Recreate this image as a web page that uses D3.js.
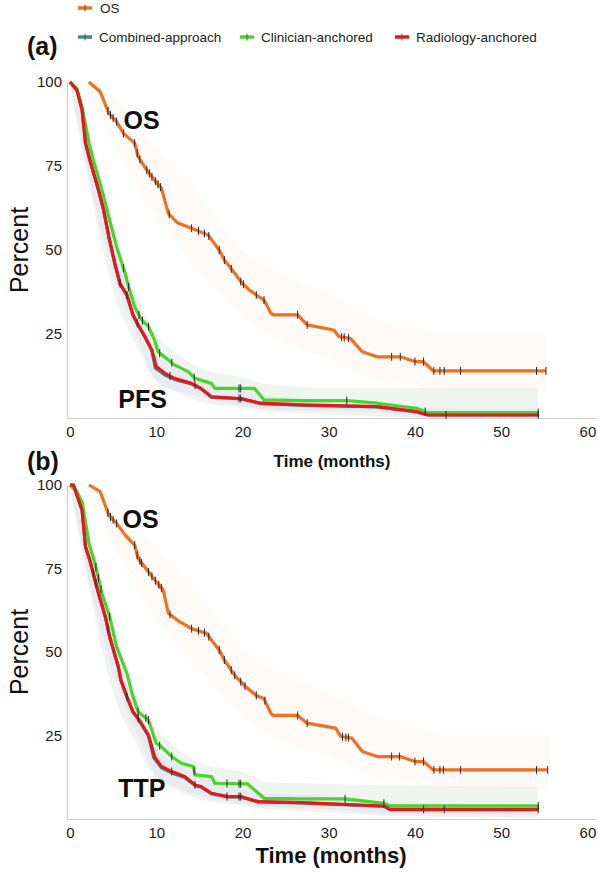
<!DOCTYPE html>
<html><head><meta charset="utf-8">
<script src="https://cdn.jsdelivr.net/npm/d3@7"></script>
<style>body{margin:0;background:#fff}svg{display:block;font-family:"Liberation Sans",Arial,sans-serif}</style>
</head><body><svg id="c" width="598" height="872"></svg>
<script>
// ---------- DATA ----------
const xTicks = [0,10,20,30,40,50,60];
const yTicks = [25,50,75,100];
const seriesNames = ["OS","Combined-approach","Clinician-anchored","Radiology-anchored"];
const seriesColors = ["#f26f22","#3e8c84","#46d62a","#e3191c"];

// Panel (a): OS
const osA_t = [2.2,3.5,4.5,5.4,6.2,7.5,7.9,8.9,9.8,10.6,11.4,12.5,14.1,16.0,17.3,17.9,19.1,19.8,20.8,21.6,22.5,23.3,23.6,26.4,27.5,30.6,31.2,32.5,33.9,35.6,38.3,40.0,41.0,42.1,55.2];
const osA_s = [100,97.1,90.7,88.2,84.7,81.8,77.8,73.8,70.8,68.4,60.9,58,56.5,54.5,50,47,43.1,40.6,38.1,36.6,35.1,31.2,30.7,30.7,27.7,26.2,24.2,23.7,19.7,18.2,18.2,16.8,16.8,14,14];
const osA_c = [4.4,4.7,5.0,5.4,6.2,7.5,7.8,8.1,8.9,9.2,9.5,9.9,10.2,10.5,11.5,14.1,14.9,15.6,16.1,17.3,17.9,18.7,19.8,20.1,21.6,22.5,26.4,27.5,31.5,31.8,32.3,37.3,38.3,40.0,41.0,42.2,42.9,43.4,45.3,54.1,55.2];
// Panel (a): PFS
const redA_t = [0,0.8,1.4,1.8,2.3,3.3,3.9,4.5,5.2,5.8,6.6,7.3,7.9,8.7,9.5,10.0,11.0,12.1,14.1,15.2,16.4,19.8,22.1,26.8,35.6,40.2,41.5,54.3];
const redA_s = [100,97.6,91.7,81.8,76.8,67.9,61.9,54,46,40,36.6,30.7,27.7,24.2,20.2,15.3,13.3,11.8,10.3,8.8,6.3,5.8,4.4,3.9,3.4,1.9,0.9,0.9];
const redA_c = [5.8,6.6,7.8,11.6,14.5,19.6,19.8,43.6,54.3];
const combA_t = [0,0.8,1.4,1.8,2.3,3.3,3.9,4.5,5.2,5.8,6.6,7.3,7.9,8.7,9.5,9.9,11.0,12.1,14.1,15.2,16.4,19.8,22.1,26.8,35.6,40.2,41.5,54.3];
const combA_s = [100,97.5,91.6,81.7,76.7,67.8,61.8,53.9,45.9,39.9,36.5,30.6,27.6,24,19.9,14.8,12.8,11.5,10.1,8.7,6.2,5.7,4.3,3.8,3.3,1.8,0.9,0.9];
const greenA_t = [0,0.8,1.4,2.2,2.7,3.7,4.5,5.4,6.4,6.8,7.5,8.3,9.1,9.8,10.2,11.4,12.1,13.7,14.5,16.4,16.8,21.4,22.5,26.8,32.1,35.6,40.2,41.5,54.3];
const greenA_s = [100,98,92.6,81.8,76.8,67.9,59.9,51,43,39,33.1,29.2,27.2,23.2,19.7,17.3,15.8,13.8,11.8,10.3,8.8,8.8,5.4,5.2,5.2,4.4,2.9,1.6,1.6];
const greenA_c = [6.2,6.8,8.0,8.4,9.1,10.4,11.8,14.4,19.6,19.8,32.1,41.2,54.3];

// Panel (b): OS
const osB_t = [2.2,3.5,4.5,5.4,6.4,7.5,7.9,9.1,10.0,10.8,11.4,12.7,14.1,15.8,17.3,17.9,19.1,20.2,21.6,22.5,23.3,23.6,26.4,27.5,30.8,31.4,32.7,33.9,35.6,38.3,40.0,41.0,42.1,55.4];
const osB_s = [100,98,91,88.5,85,82,78,74,71,68.6,61.6,59.1,57,55.6,50.6,47.6,43,40,37,36,31.6,31,31,28.7,27.2,24.7,24.2,20.2,18.7,18.7,17.2,17.2,14.7,14.7];
const osB_c = [4.4,4.7,5.0,5.4,7.5,7.8,8.1,8.3,9.1,9.5,9.9,10.3,10.6,11.6,14.1,14.9,15.6,16.1,17.3,17.9,18.7,19.1,19.8,20.3,21.6,22.6,26.4,27.5,31.6,32.0,32.3,37.3,38.2,40.0,41.0,42.2,42.9,43.3,45.3,54.1,55.4];
// Panel (b): TTP
const redB_t = [0,0.4,0.8,1.4,1.8,2.3,3.3,4.1,4.6,5.6,5.9,6.6,7.3,7.9,9.1,9.8,10.6,11.8,13.3,14.5,15.2,16.4,18.3,19.8,21.8,26.8,36.4,37.1,54.3];
const redB_s = [100,100,97,92.5,81.5,77.5,67.6,60.6,54.6,45.6,41.6,36.6,32.1,30.1,25.1,18.7,15.7,14.2,12.7,10.2,9.7,7.7,6.7,6.7,5.2,4.9,3.9,2.9,2.9];
const redB_c = [2.7,3.0,4.4,6.6,7.9,11.8,14.5,18.2,19.6,19.8,41.0,43.4,54.3];
const combB_t = [0,0.4,0.8,1.4,1.8,2.3,3.3,4.1,4.6,5.6,5.9,6.6,7.3,7.9,9.1,9.7,10.6,11.8,13.3,14.5,15.2,16.4,18.3,19.8,21.8,26.8,36.4,37.1,54.3];
const combB_s = [100,100,96.9,92.4,81.4,77.4,67.5,60.5,54.5,45.5,41.5,36.5,32,30,24.9,18.4,15.3,13.8,12.4,10,9.6,7.6,6.6,6.6,5.1,4.8,3.8,2.8,2.8];
const greenB_t = [0,0.8,1.4,2.2,2.9,3.7,4.6,5.4,6.6,7.2,7.9,9.1,10.0,10.6,11.8,12.9,14.3,14.5,16.4,16.8,20.6,22.5,26.8,31.9,36.4,37.1,54.3];
const greenB_s = [100,98,95,82.5,76.5,67.6,60.6,51.6,43.6,37.6,32.1,29.6,22.7,21.6,18.7,16.7,15.7,13.2,12.7,10.7,10.5,6.2,6,6,4.7,3.9,3.9];
const greenB_c = [3.0,3.3,3.6,4.6,7.9,8.8,9.1,10.4,11.8,14.4,18.2,19.6,19.8,31.9,36.4,54.3];

// Confidence bands (time, lower, upper)
const osBandA_t = [2.2,5,10,15,20,25,30,35,41,42.1,55.2];
const osBandA_lo = [96,82,60,44,31,22,18,12,9,7.8,7.8];
const osBandA_hi = [100,96,80,66,50,42,37,30,26,24.7,24.7];
const pfsBandA_t = [0,2,5,8,10,12,15,20,23,30,35,41,54.3];
const pfsBandA_lo = [100,72,38,20,11,8,5,3,2,1,0.5,0,0];
const pfsBandA_hi = [100,88,55,35,25,20,15,12,10,9,9,9,9];
const combBandA_lo = [100,74,43,23,11,8.5,6.5,3.5,2.5,2,1.8,0.3,0.2];
const combBandA_hi = [100,84,53,31,19,15,12,8,6.5,5.5,5,3,2.5];
const osBandB_t = [2.2,5,10,15,20,25,30,35,41,42.1,55.4];
const osBandB_lo = [96,82,60,45,31,23,19,13,10,8.7,8.7];
const osBandB_hi = [100,96,81,67,51,43,38,31,26.5,25,25];
const ttpBandB_t = [0,2,5,8,10,12,15,20,23,30,37,54.3];
const ttpBandB_lo = [100,72,38,21,12,9,6,4,3,2,1,0.5];
const ttpBandB_hi = [100,88,56,36,27,22,17,14,11,10.5,10,9.7];
const combBandB_lo = [100,74,44,24,13,10,7,4.5,3.5,3,1.5,1.2];
const combBandB_hi = [100,84,54,32,21,17,13,9,7.5,7,5,4.5];

// ---------- DRAW ----------
const svg = d3.select("#c");
const panels = [
  {label:"(a)", yTop:82, yBot:418, endLabel:"PFS", endPos:[5.6,3.0], osPos:[6.2,86],
   titleY:467, titleSize:17, tickBase:437,
   bands:[[osBandA_t,osBandA_lo,osBandA_hi,"#fbe6da",0.22],[pfsBandA_t,pfsBandA_lo,pfsBandA_hi,"#e2e9e2",0.5],[pfsBandA_t,combBandA_lo,combBandA_hi,"#dcd2f2",0.3]],
   os:[osA_t,osA_s,osA_c], comb:[combA_t,combA_s,[]], green:[greenA_t,greenA_s,greenA_c], red:[redA_t,redA_s,redA_c]},
  {label:"(b)", yTop:485, yBot:819, endLabel:"TTP", endPos:[5.6,6.5], osPos:[6.1,87],
   titleY:863, titleSize:22, tickBase:838,
   bands:[[osBandB_t,osBandB_lo,osBandB_hi,"#fbe6da",0.22],[ttpBandB_t,ttpBandB_lo,ttpBandB_hi,"#e2e9e2",0.5],[ttpBandB_t,combBandB_lo,combBandB_hi,"#dcd2f2",0.3]],
   os:[osB_t,osB_s,osB_c], comb:[combB_t,combB_s,[]], green:[greenB_t,greenB_s,greenB_c], red:[redB_t,redB_s,redB_c]}
];
const x = d3.scaleLinear().domain([-0.35,61]).range([67,596]);

function interp(ts, ss, t){
  for(let i=1;i<ts.length;i++){ if(t<=ts[i]){ const f=(t-ts[i-1])/(ts[i]-ts[i-1]||1); return ss[i-1]+f*(ss[i]-ss[i-1]); } }
  return ss[ss.length-1];
}

panels.forEach((p,pi)=>{
  const y = d3.scaleLinear().domain([0,100]).range([p.yBot,p.yTop]);
  const g = svg.append("g");
  // bands
  p.bands.forEach(([ts,lo,hi,col,op])=>{
    const area = d3.area().x((d,i)=>x(ts[i])).y0((d,i)=>y(lo[i])).y1((d,i)=>y(hi[i])).curve(d3.curveMonotoneX);
    g.append("path").datum(ts).attr("d",area).attr("fill",col).attr("opacity",op);
  });
  // axes
  const xa = g.append("g").attr("transform",`translate(0,${p.yBot})`)
    .call(d3.axisBottom(x).tickValues(xTicks).tickSize(0).tickPadding(0).tickFormat(d3.format("d")));
  xa.select(".domain").attr("stroke","#cfcfcf").attr("stroke-width",1.2);
  xa.selectAll("text").attr("font-size",15).attr("fill","#1a1a1a").attr("dy",null).attr("y",p.tickBase-p.yBot);
  const ya = g.append("g").attr("transform",`translate(67,0)`)
    .call(d3.axisLeft(y).tickValues(yTicks).tickSize(0).tickPadding(5));
  ya.select(".domain").attr("stroke","#cfcfcf").attr("stroke-width",1.2);
  ya.selectAll("text").attr("font-size",15).attr("fill","#1a1a1a");
  // lines
  const line = d3.line().x(d=>x(d[0])).y(d=>y(d[1]));
  const order = [["os",0],["comb",1],["green",2],["red",3]];
  order.forEach(([k,ci])=>{
    const [ts,ss,cs] = p[k];
    g.append("path").datum(ts.map((t,i)=>[t,ss[i]])).attr("d",line)
      .attr("fill","none").attr("stroke",seriesColors[ci]).attr("stroke-width",3.2).attr("stroke-linejoin","round");
  });
  order.forEach(([k,ci])=>{
    const [ts,ss,cs] = p[k];
    g.selectAll(null).data(cs).enter().append("line")
      .attr("x1",d=>x(d)).attr("x2",d=>x(d))
      .attr("y1",d=>y(interp(ts,ss,d))-4).attr("y2",d=>y(interp(ts,ss,d))+4)
      .attr("stroke","#2a2a2a").attr("stroke-width",1);
  });
  // labels
  g.append("text").attr("x",x(p.osPos[0])).attr("y",y(p.osPos[1])).text("OS")
    .attr("font-size",25).attr("font-weight","bold").attr("fill","#111");
  g.append("text").attr("x",x(p.endPos[0])).attr("y",y(p.endPos[1])).text(p.endLabel)
    .attr("font-size",25).attr("font-weight","bold").attr("fill","#111");
  g.append("text").attr("x",27).attr("y",pi===0?55:470).text(p.label)
    .attr("font-size",25).attr("font-weight","bold").attr("fill","#111");
  g.append("text").attr("transform",`translate(28,${(p.yTop+p.yBot)/2}) rotate(-90)`)
    .attr("text-anchor","middle").attr("font-size",25).attr("fill","#111").text("Percent");
  g.append("text").attr("x",pi===0?332:331).attr("y",p.titleY).attr("text-anchor","middle")
    .attr("font-size",p.titleSize).attr("font-weight","bold").attr("fill","#111").text("Time (months)");
});

// legend
const leg = [
  {i:0, x:78, y:8},
  {i:1, x:78, y:37},
  {i:2, x:240, y:37},
  {i:3, x:395, y:37}
];
leg.forEach(l=>{
  const gg = svg.append("g");
  gg.append("line").attr("x1",l.x).attr("x2",l.x+14).attr("y1",l.y).attr("y2",l.y)
    .attr("stroke",seriesColors[l.i]).attr("stroke-width",3.5);
  gg.append("line").attr("x1",l.x+7).attr("x2",l.x+7).attr("y1",l.y-3.5).attr("y2",l.y+3.5)
    .attr("stroke","#555").attr("stroke-width",1);
  gg.append("text").attr("x",l.x+(l.i===0?22:21)).attr("y",l.y+4.5).attr("font-size",13.5)
    .attr("fill","#222").text(seriesNames[l.i]);
});
</script></body></html>
